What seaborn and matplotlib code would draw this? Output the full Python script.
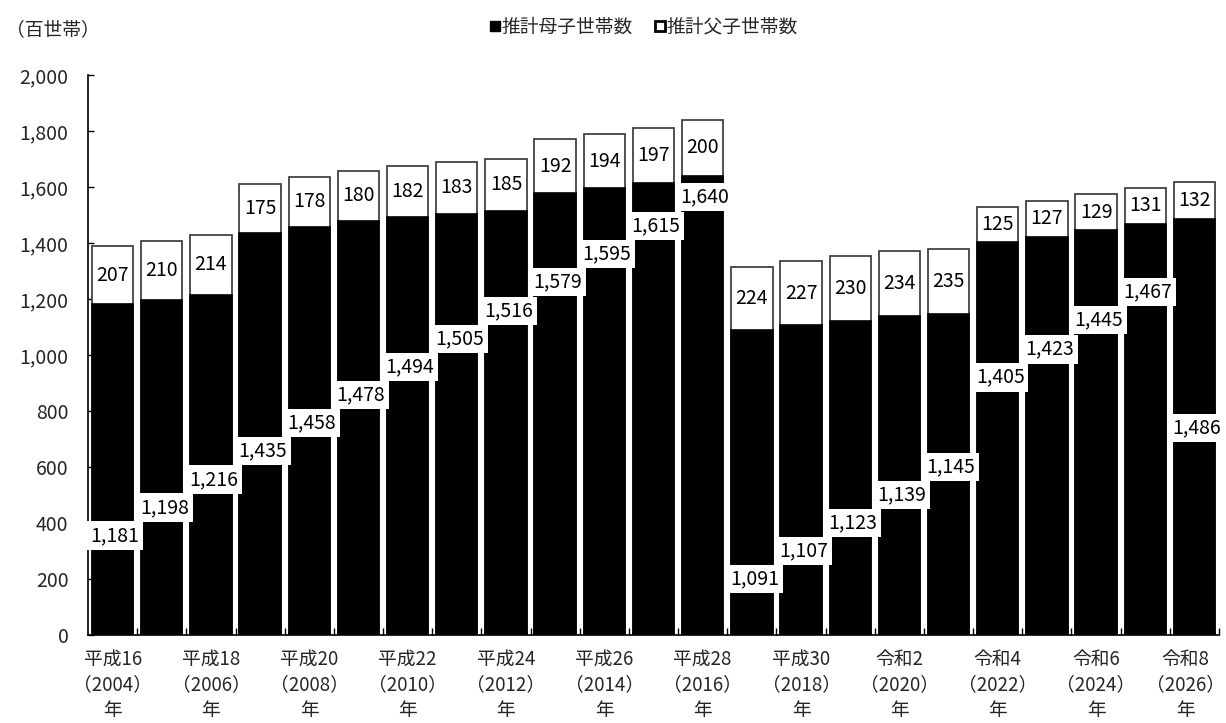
import matplotlib
matplotlib.use("Agg")
import matplotlib.pyplot as plt
import matplotlib.transforms as mtransforms
import seaborn as sns
import pandas as pd
import numpy as np
from matplotlib.patches import Patch

years = list(range(2004, 2027))
mother = [1181, 1198, 1216, 1435, 1458, 1478, 1494, 1505, 1516, 1579, 1595, 1615, 1640,
          1091, 1107, 1123, 1139, 1145, 1405, 1423, 1445, 1467, 1486]
father = [207, 210, 214, 175, 178, 180, 182, 183, 185, 192, 194, 197, 200,
          224, 227, 230, 234, 235, 125, 127, 129, 131, 132]
era_labels = ["平成16", "平成18", "平成20", "平成22", "平成24", "平成26", "平成28",
              "平成30", "令和2", "令和4", "令和6", "令和8"]
legend_labels = ["推計母子世帯数", "推計父子世帯数"]
unit_label = "（百世帯）"

# layout: vertical placement of the mother-series value boxes (data units)
mother_label_y = [354, 454, 554, 657, 757, 857, 957, 1057, 1157, 1261, 1361, 1461, 1564,
                  200, 300, 400, 500, 600, 921, 1021, 1125, 1225, 739]

sns.set_theme(style="white")
plt.rcParams['font.family'] = ['Noto Sans CJK JP', 'DejaVu Sans']

df = pd.DataFrame({"year": [str(y) for y in years], "mother": mother, "father": father})
df["total"] = df["mother"] + df["father"]

fig = plt.figure(figsize=(12.26, 7.23), dpi=100)
ax = fig.add_axes([88 / 1226, 88 / 723, (1219 - 88) / 1226, (635 - 75) / 723])

sns.barplot(data=df, x="year", y="total", color="white", edgecolor="#333333",
            linewidth=1.2, width=0.84, saturation=1, ax=ax)
sns.barplot(data=df, x="year", y="mother", color="black", edgecolor="black",
            linewidth=1.2, width=0.84, saturation=1, ax=ax)

ax.set_xlim(-0.5, len(years) - 0.5)
ax.set_ylim(0, 2000)
ax.set_xlabel("")
ax.set_ylabel("")

fs = 14
for i in range(len(years)):
    ax.text(i + 0.05, mother_label_y[i], f"{mother[i]:,}", ha="center", va="center",
            fontsize=fs, color="black",
            bbox=dict(boxstyle="square,pad=0.2", fc="white", ec="none"), zorder=5)
    ax.text(i, mother[i] + father[i] / 2, f"{father[i]}", ha="center", va="center",
            fontsize=fs, color="black", zorder=5)

ax.set_yticks(np.arange(0, 2001, 200))
ax.set_yticklabels([f"{v:,}" for v in range(0, 2001, 200)], fontsize=fs)
xt = list(range(0, len(years), 2))
ax.set_xticks(xt)
ax.set_xticklabels([f"{era}\n（{years[p]}）\n年" for era, p in zip(era_labels, xt)],
                   fontsize=13.5, linespacing=1.27)
ax.tick_params(axis="x", which="major", length=0, pad=10)
ax.set_xticks(np.arange(0.5, len(years) - 0.4, 1), minor=True)
ax.tick_params(axis="x", which="minor", direction="in", length=5, width=1, color="black",
               bottom=True)
ax.tick_params(axis="y", direction="in", length=4, width=1, color="black", left=True, pad=14)

# nudge the last category label so it stays inside the canvas
last = ax.get_xticklabels()[-1]
last.set_transform(last.get_transform() +
                   mtransforms.ScaledTranslation(-9 / 100, 0, fig.dpi_scale_trans))

for s in ["top", "right"]:
    ax.spines[s].set_visible(False)
for s in ["left", "bottom"]:
    ax.spines[s].set_color("black")
    ax.spines[s].set_linewidth(1.2)

fig.text(6 / 1226, 1 - 30 / 723, unit_label, fontsize=13.5, va="center", ha="left")

handles = [Patch(facecolor="black", edgecolor="black"),
           Patch(facecolor="white", edgecolor="black", linewidth=2)]
fig.legend(handles, legend_labels, loc="center", bbox_to_anchor=(644 / 1226, 1 - 27 / 723),
           ncol=2, frameon=False, fontsize=13.5, handlelength=0.5, handleheight=0.5,
           handletextpad=0.1, columnspacing=1.2)

fig.savefig("out.png", dpi=100)
